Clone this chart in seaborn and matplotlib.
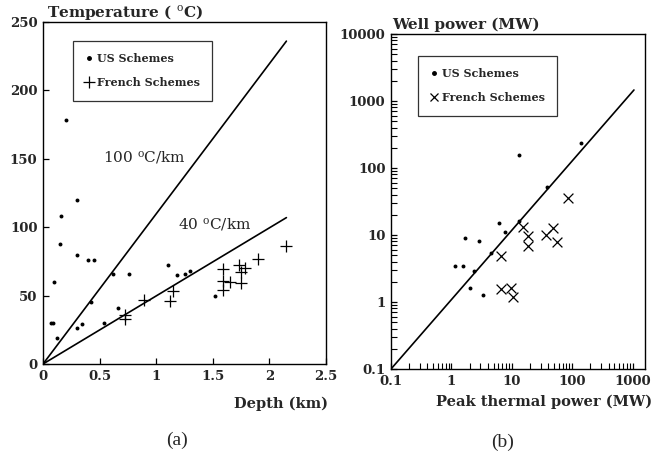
import pandas as pd
import matplotlib.pyplot as plt
import seaborn as sns
from matplotlib.lines import Line2D
from matplotlib.ticker import LogLocator, NullFormatter

# --- (a) temperature vs depth ---
us_depth = [0.20, 0.30, 0.16, 0.15, 0.30, 0.40, 0.45, 1.10, 0.10, 0.62, 0.76, 1.18,
            1.25, 1.30, 0.42, 0.66, 0.07, 0.09, 0.54, 0.34, 0.30, 0.12, 1.52]
us_temp = [178, 120, 108, 88, 80, 76, 76, 72, 60, 66, 66, 65,
           66, 68, 45, 41, 30, 30, 30, 29, 26, 19, 50]
fr_depth = [0.72, 0.72, 0.89, 1.12, 1.15, 1.59, 1.59, 1.65, 1.59, 1.73, 1.78, 1.75,
            1.75, 1.90, 2.15]
fr_temp = [36, 33, 47, 46, 53, 69.5, 61, 60, 54, 72, 70, 67, 59, 76.5, 86]
grad_depth = [0, 2.15]
grad100_temp = [0, 236]
grad40_temp = [0, 107]

# --- (b) well power vs peak thermal power ---
us_peak = [13.2, 38.7, 13.2, 6.1, 7.7, 1.70, 2.83, 4.5, 1.13, 1.57, 2.34, 2.03, 3.3, 138]
us_well = [156, 52.6, 16.2, 15.0, 11.0, 8.9, 8.1, 5.3, 3.4, 3.4, 2.93, 1.6, 1.26, 234]
fr_peak = [84, 15.1, 18.8, 18.8, 47.5, 36.8, 56.6, 6.6, 6.6, 9.7, 10.6]
fr_well = [35.3, 13.0, 9.8, 6.9, 12.9, 10.0, 7.9, 4.9, 1.56, 1.6, 1.17]
fit_peak = [0.1, 1050]
fit_well = [0.1, 1460]

sns.set_style("ticks")
plt.rcParams['font.family'] = ['DejaVu Serif']
plt.rcParams['mathtext.fontset'] = 'dejavuserif'
plt.rcParams['xtick.direction'] = 'in'
plt.rcParams['ytick.direction'] = 'in'

fig = plt.figure(figsize=(6.7, 4.57), dpi=100)
ax1 = fig.add_axes([0.0642, 0.2035, 0.4224, 0.7484])
ax2 = fig.add_axes([0.5836, 0.1926, 0.3791, 0.7330])

tick_font = dict(fontsize=9.5, fontweight='bold')
leg_font = dict(size=8, weight='bold')

# panel (a)
sns.lineplot(x=grad_depth, y=grad100_temp, ax=ax1, color='black', linewidth=1.2)
sns.lineplot(x=grad_depth, y=grad40_temp, ax=ax1, color='black', linewidth=1.2)
sns.scatterplot(x=us_depth, y=us_temp, ax=ax1, marker='o', s=8, color='black', linewidth=0)
sns.scatterplot(x=fr_depth, y=fr_temp, ax=ax1, marker='+', s=80, color='black', linewidth=0.9)
ax1.set_xlim(0, 2.5)
ax1.set_ylim(0, 250)
ax1.set_xticks([0, 0.5, 1, 1.5, 2, 2.5])
ax1.set_xticklabels(['0', '0.5', '1', '1.5', '2', '2.5'], **tick_font)
ax1.set_yticks([0, 50, 100, 150, 200, 250])
ax1.set_yticklabels(['0', '50', '100', '150', '200', '250'], **tick_font)
ax1.tick_params(length=4, width=0.9, color='black', pad=4)
ax1.text(0.53, 151, r'100 $^{\mathrm{o}}$C/km', fontsize=11, va='center')
ax1.text(1.19, 102, r'40 $^{\mathrm{o}}$C/km', fontsize=11, va='center')
fig.text(47 / 670, 1 - 12 / 457, r'Temperature ( $^{\mathrm{o}}$C)', fontsize=11,
         fontweight='bold', va='center')
fig.text(328 / 670, 1 - 404 / 457, 'Depth (km)', fontsize=10.5, fontweight='bold',
         ha='right', va='center')
h1 = [Line2D([], [], marker='o', markersize=2.5, color='black', linestyle=''),
      Line2D([], [], marker='+', markersize=8, color='black', linestyle='', markeredgewidth=0.9)]
leg1 = ax1.legend(h1, ['US Schemes', 'French Schemes'], loc='upper left',
                  bbox_to_anchor=(0.105, 0.945), frameon=True, fancybox=False,
                  edgecolor='black', prop=leg_font, handlelength=0.8, handletextpad=0.3,
                  borderpad=1.1, labelspacing=1.2, borderaxespad=0)
leg1.get_frame().set_linewidth(0.9)

# panel (b)
sns.lineplot(x=fit_peak, y=fit_well, ax=ax2, color='black', linewidth=1.2)
sns.scatterplot(x=us_peak, y=us_well, ax=ax2, marker='o', s=8, color='black', linewidth=0)
sns.scatterplot(x=fr_peak, y=fr_well, ax=ax2, marker='x', s=50, color='black', linewidth=0.9)
ax2.set_xscale('log')
ax2.set_yscale('log')
ax2.set_xlim(0.1, 1600)
ax2.set_ylim(0.1, 10000)
ax2.set_xticks([0.1, 1, 10, 100, 1000])
ax2.set_xticklabels(['0.1', '1', '10', '100', '1000'], **tick_font)
ax2.set_yticks([0.1, 1, 10, 100, 1000, 10000])
ax2.set_yticklabels(['0.1', '1', '10', '100', '1000', '10000'], **tick_font)
for axis in (ax2.xaxis, ax2.yaxis):
    axis.set_minor_locator(LogLocator(base=10, subs=tuple(range(2, 10)), numticks=200))
    axis.set_minor_formatter(NullFormatter())
ax2.tick_params(which='major', length=4.5, width=0.9, color='black', pad=4)
ax2.tick_params(which='minor', length=4, width=0.8, color='black', left=True, bottom=True,
                top=False, right=False)
fig.text(392 / 670, 1 - 25 / 457, 'Well power (MW)', fontsize=11, fontweight='bold',
         va='center')
fig.text(652 / 670, 1 - 402 / 457, 'Peak thermal power (MW)', fontsize=10.5,
         fontweight='bold', ha='right', va='center')
h2 = [Line2D([], [], marker='o', markersize=2.5, color='black', linestyle=''),
      Line2D([], [], marker='x', markersize=6, color='black', linestyle='', markeredgewidth=0.9)]
leg2 = ax2.legend(h2, ['US Schemes', 'French Schemes'], loc='upper left',
                  bbox_to_anchor=(0.105, 0.935), frameon=True, fancybox=False,
                  edgecolor='black', prop=leg_font, handlelength=0.8, handletextpad=0.3,
                  borderpad=1.1, labelspacing=1.2, borderaxespad=0)
leg2.get_frame().set_linewidth(0.9)

for ax in (ax1, ax2):
    for sp in ax.spines.values():
        sp.set_visible(True)
        sp.set_linewidth(1.0)
        sp.set_color('black')
    ax.set_xlabel('')
    ax.set_ylabel('')

fig.text(177 / 670, 1 - 440 / 457, '(a)', fontsize=14, family='Liberation Serif',
         ha='center', va='center')
fig.text(503 / 670, 1 - 442 / 457, '(b)', fontsize=14, family='Liberation Serif',
         ha='center', va='center')

plt.savefig('out.png', dpi=100)
